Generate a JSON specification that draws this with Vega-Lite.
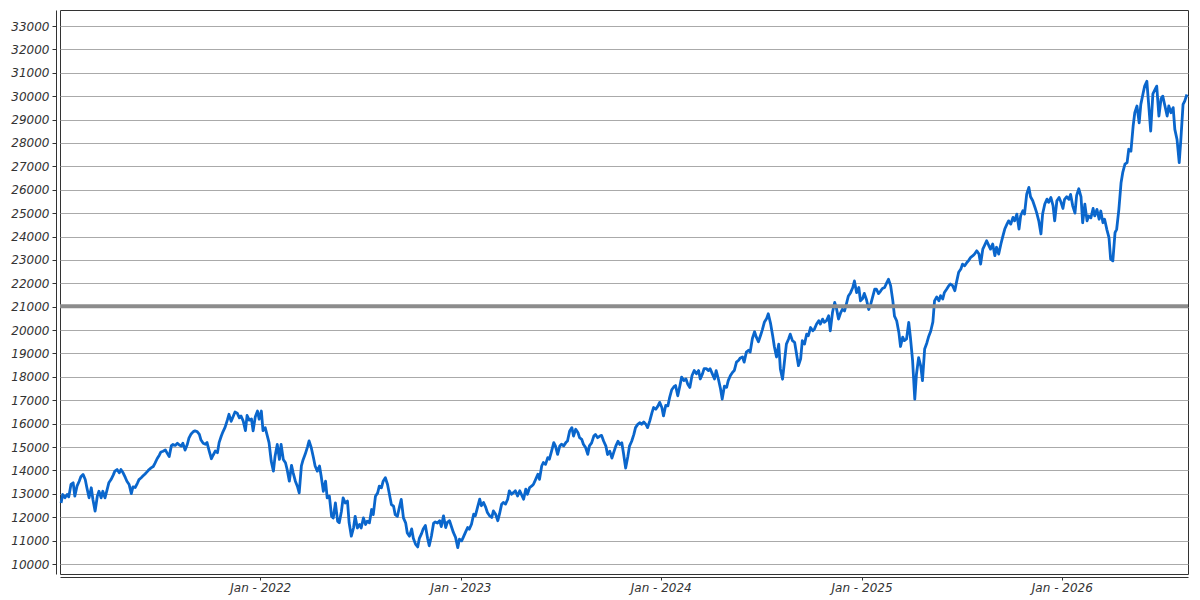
{
"$schema":"https://vega.github.io/schema/vega-lite/v6.json",
"width":1128,"height":564,
"autosize":{"type":"none"},
"padding":{"left":60,"top":10,"right":12,"bottom":26},
"background":"white",
"config":{"view":{"stroke":"#333333","strokeWidth":1},"axis":{"labelFont":"DejaVu Sans","labelFontStyle":"italic","labelFontSize":12,"labelColor":"#333333","domainColor":"#333333","tickColor":"#333333"}},
"encoding":{"y":{"field":"value","type":"quantitative","scale":{"domain":[9573,33684],"nice":false,"zero":false},"axis":{"title":null,"values":[10000,11000,12000,13000,14000,15000,16000,17000,18000,19000,20000,21000,22000,23000,24000,25000,26000,27000,28000,29000,30000,31000,32000,33000],"format":"d","offset":4,"tickSize":4,"labelPadding":3,"gridColor":"#aaaaaa","gridWidth":1}}},
"layer":[
{"data":{"values":[
{"date":"2021-01-03","value":12610},{"date":"2021-01-06","value":12970},{"date":"2021-01-10","value":12830},{"date":"2021-01-14","value":12970},{"date":"2021-01-17","value":12870},{"date":"2021-01-21","value":13400},{"date":"2021-01-25","value":13470},{"date":"2021-01-28","value":12900},{"date":"2021-02-01","value":13330},{"date":"2021-02-05","value":13540},{"date":"2021-02-08","value":13730},{"date":"2021-02-12","value":13830},{"date":"2021-02-16","value":13610},{"date":"2021-02-19","value":13260},{"date":"2021-02-23","value":12830},{"date":"2021-02-27","value":13260},{"date":"2021-03-02","value":12760},{"date":"2021-03-06","value":12260},{"date":"2021-03-10","value":12900},{"date":"2021-03-13","value":13110},{"date":"2021-03-17","value":12830},{"date":"2021-03-20","value":13110},{"date":"2021-03-24","value":12830},{"date":"2021-03-28","value":13190},{"date":"2021-03-31","value":13470},{"date":"2021-04-04","value":13610},{"date":"2021-04-08","value":13800},{"date":"2021-04-11","value":13970},{"date":"2021-04-15","value":14040},{"date":"2021-04-19","value":13900},{"date":"2021-04-22","value":14040},{"date":"2021-04-26","value":13900},{"date":"2021-04-30","value":13700},{"date":"2021-05-03","value":13540},{"date":"2021-05-07","value":13400},{"date":"2021-05-11","value":13010},{"date":"2021-05-14","value":13300},{"date":"2021-05-18","value":13270},{"date":"2021-05-22","value":13450},{"date":"2021-05-25","value":13610},{"date":"2021-05-29","value":13690},{"date":"2021-06-01","value":13760},{"date":"2021-06-05","value":13850},{"date":"2021-06-09","value":13950},{"date":"2021-06-12","value":14030},{"date":"2021-06-16","value":14110},{"date":"2021-06-20","value":14170},{"date":"2021-06-23","value":14300},{"date":"2021-06-27","value":14500},{"date":"2021-07-01","value":14650},{"date":"2021-07-04","value":14790},{"date":"2021-07-08","value":14820},{"date":"2021-07-12","value":14880},{"date":"2021-07-15","value":14750},{"date":"2021-07-19","value":14590},{"date":"2021-07-23","value":15060},{"date":"2021-07-26","value":15110},{"date":"2021-07-30","value":15070},{"date":"2021-08-03","value":15160},{"date":"2021-08-06","value":15100},{"date":"2021-08-10","value":15040},{"date":"2021-08-13","value":15160},{"date":"2021-08-17","value":14870},{"date":"2021-08-21","value":15110},{"date":"2021-08-24","value":15380},{"date":"2021-08-28","value":15560},{"date":"2021-09-01","value":15660},{"date":"2021-09-04","value":15690},{"date":"2021-09-08","value":15660},{"date":"2021-09-12","value":15540},{"date":"2021-09-15","value":15300},{"date":"2021-09-19","value":15160},{"date":"2021-09-23","value":15120},{"date":"2021-09-26","value":15190},{"date":"2021-09-30","value":14830},{"date":"2021-10-04","value":14500},{"date":"2021-10-07","value":14650},{"date":"2021-10-11","value":14830},{"date":"2021-10-15","value":14760},{"date":"2021-10-18","value":15190},{"date":"2021-10-22","value":15470},{"date":"2021-10-25","value":15650},{"date":"2021-10-29","value":15850},{"date":"2021-11-02","value":16150},{"date":"2021-11-05","value":16400},{"date":"2021-11-09","value":16100},{"date":"2021-11-13","value":16330},{"date":"2021-11-16","value":16500},{"date":"2021-11-20","value":16450},{"date":"2021-11-24","value":16250},{"date":"2021-11-27","value":16330},{"date":"2021-12-01","value":16110},{"date":"2021-12-05","value":15700},{"date":"2021-12-08","value":16350},{"date":"2021-12-12","value":16150},{"date":"2021-12-16","value":16200},{"date":"2021-12-19","value":15690},{"date":"2021-12-23","value":16300},{"date":"2021-12-27","value":16540},{"date":"2021-12-30","value":16190},
{"date":"2022-01-03","value":16540},{"date":"2022-01-06","value":15700},{"date":"2022-01-10","value":15830},{"date":"2022-01-14","value":15470},{"date":"2022-01-17","value":15190},{"date":"2022-01-21","value":14400},{"date":"2022-01-25","value":13970},{"date":"2022-01-28","value":14610},{"date":"2022-02-01","value":15110},{"date":"2022-02-05","value":14470},{"date":"2022-02-08","value":15110},{"date":"2022-02-12","value":14470},{"date":"2022-02-16","value":14330},{"date":"2022-02-19","value":14040},{"date":"2022-02-23","value":13540},{"date":"2022-02-27","value":14220},{"date":"2022-03-02","value":13900},{"date":"2022-03-06","value":13540},{"date":"2022-03-10","value":13300},{"date":"2022-03-13","value":13040},{"date":"2022-03-17","value":14200},{"date":"2022-03-20","value":14450},{"date":"2022-03-24","value":14700},{"date":"2022-03-28","value":15000},{"date":"2022-03-31","value":15260},{"date":"2022-04-04","value":14970},{"date":"2022-04-08","value":14540},{"date":"2022-04-11","value":14190},{"date":"2022-04-15","value":13970},{"date":"2022-04-19","value":14190},{"date":"2022-04-22","value":13760},{"date":"2022-04-26","value":13110},{"date":"2022-04-30","value":13540},{"date":"2022-05-03","value":12830},{"date":"2022-05-07","value":12900},{"date":"2022-05-11","value":12040},{"date":"2022-05-14","value":11970},{"date":"2022-05-18","value":12610},{"date":"2022-05-22","value":11830},{"date":"2022-05-25","value":11760},{"date":"2022-05-29","value":12260},{"date":"2022-06-01","value":12830},{"date":"2022-06-05","value":12610},{"date":"2022-06-09","value":12690},{"date":"2022-06-12","value":11760},{"date":"2022-06-16","value":11190},{"date":"2022-06-20","value":11540},{"date":"2022-06-23","value":12040},{"date":"2022-06-27","value":11540},{"date":"2022-07-01","value":11690},{"date":"2022-07-04","value":11540},{"date":"2022-07-08","value":11970},{"date":"2022-07-12","value":11690},{"date":"2022-07-15","value":11830},{"date":"2022-07-19","value":11760},{"date":"2022-07-23","value":12330},{"date":"2022-07-26","value":12110},{"date":"2022-07-30","value":12900},{"date":"2022-08-03","value":13040},{"date":"2022-08-06","value":13330},{"date":"2022-08-10","value":13260},{"date":"2022-08-13","value":13540},{"date":"2022-08-17","value":13690},{"date":"2022-08-21","value":13400},{"date":"2022-08-24","value":13040},{"date":"2022-08-28","value":12540},{"date":"2022-09-01","value":12470},{"date":"2022-09-04","value":12110},{"date":"2022-09-08","value":12040},{"date":"2022-09-12","value":12470},{"date":"2022-09-15","value":12760},{"date":"2022-09-19","value":11970},{"date":"2022-09-23","value":11760},{"date":"2022-09-26","value":11330},{"date":"2022-09-30","value":11190},{"date":"2022-10-04","value":11500},{"date":"2022-10-07","value":11100},{"date":"2022-10-11","value":10850},{"date":"2022-10-15","value":10730},{"date":"2022-10-18","value":11100},{"date":"2022-10-22","value":11300},{"date":"2022-10-25","value":11500},{"date":"2022-10-29","value":11650},{"date":"2022-11-02","value":11100},{"date":"2022-11-05","value":10780},{"date":"2022-11-09","value":11200},{"date":"2022-11-13","value":11750},{"date":"2022-11-16","value":11800},{"date":"2022-11-20","value":11750},{"date":"2022-11-24","value":11850},{"date":"2022-11-27","value":11600},{"date":"2022-12-01","value":12060},{"date":"2022-12-05","value":11560},{"date":"2022-12-08","value":11780},{"date":"2022-12-12","value":11850},{"date":"2022-12-16","value":11560},{"date":"2022-12-19","value":11350},{"date":"2022-12-23","value":11140},{"date":"2022-12-27","value":10700},{"date":"2022-12-30","value":11060},
{"date":"2023-01-03","value":10990},{"date":"2023-01-06","value":11140},{"date":"2023-01-10","value":11350},{"date":"2023-01-14","value":11560},{"date":"2023-01-17","value":11490},{"date":"2023-01-21","value":11700},{"date":"2023-01-25","value":12130},{"date":"2023-01-28","value":12060},{"date":"2023-02-01","value":12420},{"date":"2023-02-05","value":12770},{"date":"2023-02-08","value":12490},{"date":"2023-02-12","value":12630},{"date":"2023-02-16","value":12420},{"date":"2023-02-19","value":12200},{"date":"2023-02-23","value":12060},{"date":"2023-02-27","value":11990},{"date":"2023-03-02","value":12270},{"date":"2023-03-06","value":12130},{"date":"2023-03-10","value":11850},{"date":"2023-03-13","value":12130},{"date":"2023-03-17","value":12560},{"date":"2023-03-20","value":12630},{"date":"2023-03-24","value":12560},{"date":"2023-03-28","value":12770},{"date":"2023-03-31","value":13130},{"date":"2023-04-04","value":12980},{"date":"2023-04-08","value":13060},{"date":"2023-04-11","value":13130},{"date":"2023-04-15","value":12910},{"date":"2023-04-19","value":13130},{"date":"2023-04-22","value":12980},{"date":"2023-04-26","value":12770},{"date":"2023-04-30","value":13200},{"date":"2023-05-03","value":12980},{"date":"2023-05-07","value":13270},{"date":"2023-05-11","value":13340},{"date":"2023-05-14","value":13410},{"date":"2023-05-18","value":13620},{"date":"2023-05-22","value":13840},{"date":"2023-05-25","value":13620},{"date":"2023-05-29","value":14190},{"date":"2023-06-01","value":14340},{"date":"2023-06-05","value":14260},{"date":"2023-06-09","value":14550},{"date":"2023-06-12","value":14480},{"date":"2023-06-16","value":14830},{"date":"2023-06-20","value":15190},{"date":"2023-06-23","value":15050},{"date":"2023-06-27","value":14690},{"date":"2023-07-01","value":15050},{"date":"2023-07-04","value":15120},{"date":"2023-07-08","value":15050},{"date":"2023-07-12","value":15190},{"date":"2023-07-15","value":15260},{"date":"2023-07-19","value":15690},{"date":"2023-07-23","value":15830},{"date":"2023-07-26","value":15470},{"date":"2023-07-30","value":15760},{"date":"2023-08-03","value":15620},{"date":"2023-08-06","value":15400},{"date":"2023-08-10","value":15330},{"date":"2023-08-13","value":15120},{"date":"2023-08-17","value":14980},{"date":"2023-08-21","value":14690},{"date":"2023-08-24","value":15050},{"date":"2023-08-28","value":15180},{"date":"2023-09-01","value":15470},{"date":"2023-09-04","value":15540},{"date":"2023-09-08","value":15400},{"date":"2023-09-12","value":15470},{"date":"2023-09-15","value":15500},{"date":"2023-09-19","value":15250},{"date":"2023-09-23","value":15040},{"date":"2023-09-26","value":14680},{"date":"2023-09-30","value":14820},{"date":"2023-10-04","value":14530},{"date":"2023-10-07","value":14750},{"date":"2023-10-11","value":15040},{"date":"2023-10-15","value":15250},{"date":"2023-10-18","value":15110},{"date":"2023-10-22","value":15180},{"date":"2023-10-25","value":14750},{"date":"2023-10-29","value":14100},{"date":"2023-11-02","value":14600},{"date":"2023-11-05","value":15040},{"date":"2023-11-09","value":15250},{"date":"2023-11-13","value":15540},{"date":"2023-11-16","value":15830},{"date":"2023-11-20","value":15970},{"date":"2023-11-24","value":16040},{"date":"2023-11-27","value":15970},{"date":"2023-12-01","value":16070},{"date":"2023-12-05","value":15970},{"date":"2023-12-08","value":15830},{"date":"2023-12-12","value":16120},{"date":"2023-12-16","value":16470},{"date":"2023-12-19","value":16690},{"date":"2023-12-23","value":16620},{"date":"2023-12-27","value":16760},{"date":"2023-12-30","value":16910},
{"date":"2024-01-03","value":16690},{"date":"2024-01-06","value":16330},{"date":"2024-01-10","value":16780},{"date":"2024-01-14","value":16760},{"date":"2024-01-17","value":17100},{"date":"2024-01-21","value":17450},{"date":"2024-01-25","value":17580},{"date":"2024-01-28","value":17630},{"date":"2024-02-01","value":17190},{"date":"2024-02-05","value":17630},{"date":"2024-02-08","value":17990},{"date":"2024-02-12","value":17840},{"date":"2024-02-16","value":17910},{"date":"2024-02-19","value":17700},{"date":"2024-02-23","value":17550},{"date":"2024-02-27","value":18060},{"date":"2024-03-02","value":18270},{"date":"2024-03-06","value":18130},{"date":"2024-03-10","value":18270},{"date":"2024-03-13","value":17910},{"date":"2024-03-17","value":18130},{"date":"2024-03-20","value":18350},{"date":"2024-03-24","value":18350},{"date":"2024-03-28","value":18270},{"date":"2024-03-31","value":18350},{"date":"2024-04-04","value":18130},{"date":"2024-04-08","value":17910},{"date":"2024-04-11","value":18270},{"date":"2024-04-15","value":17910},{"date":"2024-04-19","value":17480},{"date":"2024-04-22","value":17050},{"date":"2024-04-26","value":17600},{"date":"2024-04-30","value":17550},{"date":"2024-05-03","value":17840},{"date":"2024-05-07","value":18060},{"date":"2024-05-11","value":18200},{"date":"2024-05-14","value":18270},{"date":"2024-05-18","value":18630},{"date":"2024-05-22","value":18710},{"date":"2024-05-25","value":18810},{"date":"2024-05-29","value":18850},{"date":"2024-06-01","value":18630},{"date":"2024-06-05","value":19060},{"date":"2024-06-09","value":19140},{"date":"2024-06-12","value":19060},{"date":"2024-06-16","value":19640},{"date":"2024-06-20","value":19930},{"date":"2024-06-23","value":19710},{"date":"2024-06-27","value":19500},{"date":"2024-07-01","value":19780},{"date":"2024-07-04","value":20000},{"date":"2024-07-08","value":20350},{"date":"2024-07-12","value":20500},{"date":"2024-07-15","value":20700},{"date":"2024-07-19","value":20300},{"date":"2024-07-23","value":19760},{"date":"2024-07-26","value":19300},{"date":"2024-07-30","value":18850},{"date":"2024-08-03","value":19400},{"date":"2024-08-06","value":18340},{"date":"2024-08-10","value":17900},{"date":"2024-08-13","value":18550},{"date":"2024-08-17","value":19400},{"date":"2024-08-21","value":19620},{"date":"2024-08-24","value":19830},{"date":"2024-08-28","value":19550},{"date":"2024-09-01","value":19480},{"date":"2024-09-04","value":19050},{"date":"2024-09-08","value":18480},{"date":"2024-09-12","value":18770},{"date":"2024-09-15","value":19550},{"date":"2024-09-19","value":19400},{"date":"2024-09-23","value":19830},{"date":"2024-09-26","value":19760},{"date":"2024-09-30","value":20110},{"date":"2024-10-04","value":19970},{"date":"2024-10-07","value":20040},{"date":"2024-10-11","value":20260},{"date":"2024-10-15","value":20400},{"date":"2024-10-18","value":20260},{"date":"2024-10-22","value":20470},{"date":"2024-10-25","value":20330},{"date":"2024-10-29","value":20400},{"date":"2024-11-02","value":20610},{"date":"2024-11-05","value":19970},{"date":"2024-11-09","value":20750},{"date":"2024-11-13","value":21180},{"date":"2024-11-16","value":20960},{"date":"2024-11-20","value":20470},{"date":"2024-11-24","value":20750},{"date":"2024-11-27","value":20890},{"date":"2024-12-01","value":20820},{"date":"2024-12-05","value":21180},{"date":"2024-12-08","value":21460},{"date":"2024-12-12","value":21600},{"date":"2024-12-16","value":21820},{"date":"2024-12-19","value":22100},{"date":"2024-12-23","value":21600},{"date":"2024-12-27","value":21820},{"date":"2024-12-30","value":21250},
{"date":"2025-01-03","value":21350},{"date":"2025-01-06","value":21570},{"date":"2025-01-10","value":21300},{"date":"2025-01-14","value":20880},{"date":"2025-01-17","value":21050},{"date":"2025-01-21","value":21400},{"date":"2025-01-25","value":21750},{"date":"2025-01-28","value":21750},{"date":"2025-02-01","value":21560},{"date":"2025-02-05","value":21680},{"date":"2025-02-08","value":21780},{"date":"2025-02-12","value":21820},{"date":"2025-02-16","value":22030},{"date":"2025-02-19","value":22170},{"date":"2025-02-23","value":21900},{"date":"2025-02-27","value":21250},{"date":"2025-03-02","value":20600},{"date":"2025-03-06","value":20400},{"date":"2025-03-10","value":19900},{"date":"2025-03-13","value":19300},{"date":"2025-03-17","value":19700},{"date":"2025-03-20","value":19550},{"date":"2025-03-24","value":19620},{"date":"2025-03-28","value":20330},{"date":"2025-03-31","value":19700},{"date":"2025-04-04","value":18700},{"date":"2025-04-08","value":17050},{"date":"2025-04-11","value":18100},{"date":"2025-04-15","value":18820},{"date":"2025-04-19","value":18450},{"date":"2025-04-22","value":17840},{"date":"2025-04-26","value":19190},{"date":"2025-04-30","value":19450},{"date":"2025-05-03","value":19700},{"date":"2025-05-07","value":19950},{"date":"2025-05-11","value":20350},{"date":"2025-05-14","value":21250},{"date":"2025-05-18","value":21420},{"date":"2025-05-22","value":21250},{"date":"2025-05-25","value":21470},{"date":"2025-05-29","value":21330},{"date":"2025-06-01","value":21610},{"date":"2025-06-05","value":21750},{"date":"2025-06-09","value":21900},{"date":"2025-06-12","value":21970},{"date":"2025-06-16","value":21900},{"date":"2025-06-20","value":21680},{"date":"2025-06-23","value":22040},{"date":"2025-06-27","value":22470},{"date":"2025-07-01","value":22610},{"date":"2025-07-04","value":22820},{"date":"2025-07-08","value":22750},{"date":"2025-07-12","value":22890},{"date":"2025-07-15","value":22970},{"date":"2025-07-19","value":23110},{"date":"2025-07-23","value":23180},{"date":"2025-07-26","value":23250},{"date":"2025-07-30","value":23390},{"date":"2025-08-03","value":23250},{"date":"2025-08-06","value":22820},{"date":"2025-08-10","value":23460},{"date":"2025-08-13","value":23610},{"date":"2025-08-17","value":23820},{"date":"2025-08-21","value":23610},{"date":"2025-08-24","value":23460},{"date":"2025-08-28","value":23680},{"date":"2025-09-01","value":23180},{"date":"2025-09-04","value":23540},{"date":"2025-09-08","value":23250},{"date":"2025-09-12","value":23680},{"date":"2025-09-15","value":23960},{"date":"2025-09-19","value":24320},{"date":"2025-09-23","value":24530},{"date":"2025-09-26","value":24670},{"date":"2025-09-30","value":24530},{"date":"2025-10-04","value":24820},{"date":"2025-10-07","value":24670},{"date":"2025-10-11","value":24960},{"date":"2025-10-15","value":24320},{"date":"2025-10-18","value":24890},{"date":"2025-10-22","value":25100},{"date":"2025-10-25","value":24960},{"date":"2025-10-29","value":25810},{"date":"2025-11-02","value":26100},{"date":"2025-11-05","value":25700},{"date":"2025-11-09","value":25530},{"date":"2025-11-13","value":25250},{"date":"2025-11-16","value":25030},{"date":"2025-11-20","value":24670},{"date":"2025-11-24","value":24110},{"date":"2025-11-27","value":24960},{"date":"2025-12-01","value":25390},{"date":"2025-12-05","value":25600},{"date":"2025-12-08","value":25460},{"date":"2025-12-12","value":25670},{"date":"2025-12-16","value":25320},{"date":"2025-12-19","value":24670},{"date":"2025-12-23","value":25530},{"date":"2025-12-27","value":25670},{"date":"2025-12-30","value":25500},
{"date":"2026-01-03","value":25200},{"date":"2026-01-06","value":25590},{"date":"2026-01-10","value":25700},{"date":"2026-01-14","value":25590},{"date":"2026-01-17","value":25800},{"date":"2026-01-21","value":25300},{"date":"2026-01-25","value":25000},{"date":"2026-01-28","value":25760},{"date":"2026-02-01","value":26040},{"date":"2026-02-05","value":25700},{"date":"2026-02-08","value":24590},{"date":"2026-02-12","value":25380},{"date":"2026-02-16","value":24670},{"date":"2026-02-19","value":24880},{"date":"2026-02-23","value":24800},{"date":"2026-02-27","value":25200},{"date":"2026-03-02","value":24880},{"date":"2026-03-06","value":25160},{"date":"2026-03-10","value":24740},{"date":"2026-03-13","value":25090},{"date":"2026-03-17","value":24590},{"date":"2026-03-20","value":24740},{"date":"2026-03-24","value":24310},{"date":"2026-03-28","value":23950},{"date":"2026-03-31","value":23030},{"date":"2026-04-04","value":22960},{"date":"2026-04-08","value":24170},{"date":"2026-04-11","value":24310},{"date":"2026-04-15","value":25160},{"date":"2026-04-19","value":26300},{"date":"2026-04-22","value":26730},{"date":"2026-04-26","value":27090},{"date":"2026-04-30","value":27160},{"date":"2026-05-03","value":27730},{"date":"2026-05-07","value":27650},{"date":"2026-05-11","value":28720},{"date":"2026-05-14","value":29290},{"date":"2026-05-18","value":29580},{"date":"2026-05-22","value":28860},{"date":"2026-05-25","value":29650},{"date":"2026-05-29","value":30100},{"date":"2026-06-01","value":30430},{"date":"2026-06-05","value":30640},{"date":"2026-06-09","value":29430},{"date":"2026-06-12","value":28510},{"date":"2026-06-16","value":30100},{"date":"2026-06-20","value":30290},{"date":"2026-06-23","value":30430},{"date":"2026-06-27","value":29150},{"date":"2026-07-01","value":29900},{"date":"2026-07-04","value":30000},{"date":"2026-07-08","value":29580},{"date":"2026-07-12","value":29150},{"date":"2026-07-15","value":29580},{"date":"2026-07-19","value":29290},{"date":"2026-07-23","value":29510},{"date":"2026-07-26","value":28580},{"date":"2026-07-30","value":28150},{"date":"2026-08-03","value":27160},{"date":"2026-08-06","value":28150},{"date":"2026-08-10","value":29650},{"date":"2026-08-13","value":29790},{"date":"2026-08-17","value":30070}
]},
"mark":{"type":"line","color":"#0a66cc","strokeWidth":2.8,"strokeJoin":"round"},
"encoding":{"x":{"field":"date","type":"temporal","scale":{"type":"utc","domain":[{"year":2021,"month":1,"date":1,"utc":true},{"year":2026,"month":8,"date":19,"utc":true}]},"axis":{"title":null,"labelExpr":"utcFormat(datum.value, '%b - %Y')","values":[{"year":2022,"month":1,"date":1,"utc":true},{"year":2023,"month":1,"date":1,"utc":true},{"year":2024,"month":1,"date":1,"utc":true},{"year":2025,"month":1,"date":1,"utc":true},{"year":2026,"month":1,"date":1,"utc":true}],"grid":false,"offset":3,"tickSize":3,"labelPadding":2}}}},
{"data":{"values":[{"value":21020}]},
"mark":{"type":"rule","color":"#8c8c8c","strokeWidth":4},
"encoding":{}}
]
}
